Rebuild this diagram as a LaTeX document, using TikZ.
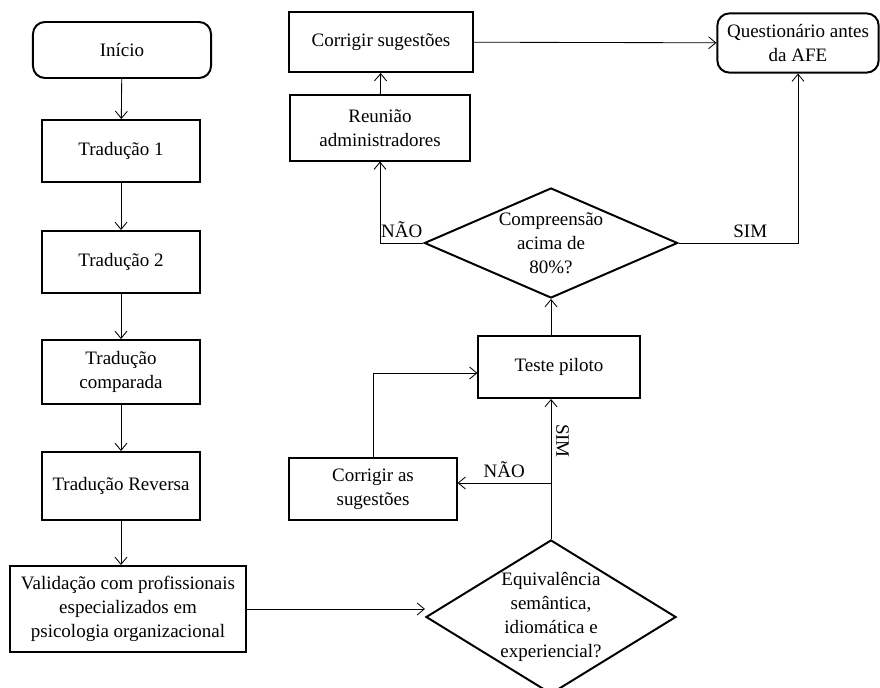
\documentclass[tikz,border=0pt]{standalone}
\usepackage{fontspec}
\setmainfont{Liberation Serif}
\usepackage{tikz}
\usetikzlibrary{shapes.geometric,arrows.meta,positioning,calc}

\begin{document}
\begin{tikzpicture}[
  x=0.025cm, y=-0.025cm,
  font=\fontsize{13.5}{17}\selectfont,
  >={Straight Barb[length=1.8mm,width=3mm]},
  terminal/.style={rectangle,rounded corners=0.3cm,draw,line width=1.4pt,align=center},
  process/.style={rectangle,draw,line width=1.4pt,align=center},
  decision/.style={diamond,draw,line width=1.4pt,inner sep=0pt},
  flow/.style={->,line width=0.6pt},
]
\useasboundingbox (0,0) rectangle (880,688);

% coluna da traducao
\node[terminal,minimum width=4.45cm,minimum height=1.4cm] (start) at (122,50) {Início};
\node[process,minimum width=3.95cm,minimum height=1.55cm] (trad1) at (121,151) {Tradução 1};
\node[process,minimum width=3.95cm,minimum height=1.55cm] (trad2) at (121,262) {Tradução 2};
\node[process,minimum width=3.95cm,minimum height=1.6cm] (tradcomp) at (121,372) {Tradução\\comparada};
\node[process,minimum width=3.95cm,minimum height=1.7cm] (tradrev) at (121,486) {Tradução Reversa};
\node[process,minimum width=5.9cm,minimum height=2.15cm] (valid) at (128,609) {Validação com profissionais\\especializados em\\psicologia organizacional};

% validacao e teste
\node[decision,minimum width=6.25cm,minimum height=3.85cm,
  label={[align=center]center:Equivalência\\semântica,\\idiomática e\\experiencial?}] (equiv) at (551,617) {};
\node[process,minimum width=4.18cm,minimum height=1.55cm] (corrigas) at (373,489) {Corrigir as\\sugestões};
\node[process,minimum width=4.03cm,minimum height=1.55cm] (teste) at (559,367) {Teste piloto};
\node[decision,minimum width=6.33cm,minimum height=2.75cm,
  label={[align=center]center:Compreensão\\acima de\\80\%?}] (compr) at (551,243) {};
\node[process,minimum width=4.5cm,minimum height=1.63cm] (reuniao) at (380,128) {Reunião\\administradores};
\node[process,minimum width=4.58cm,minimum height=1.5cm] (corrig) at (381,42) {Corrigir sugestões};
\node[terminal,minimum width=4.03cm,minimum height=1.48cm] (quest) at (798,43) {Questionário antes\\da AFE};

\coordinate (split) at (551,483);

\draw[flow] (start) -- (trad1);
\draw[flow] (trad1) -- (trad2);
\draw[flow] (trad2) -- (tradcomp);
\draw[flow] (tradcomp) -- (tradrev);
\draw[flow] (tradrev.south) -- (tradrev.south |- valid.north);
\draw[flow] (valid.east) -- (valid.east -| equiv.west);
\draw[flow] (equiv.north) -- node[pos=0.7,rotate=-90,anchor=south]{SIM} (equiv.north |- teste.south);
\draw[flow] (split) -- node[above]{NÃO} (split -| corrigas.east);
\draw[flow] (corrigas.north) |- ($(teste.west)+(0,6)$);
\draw[flow] (compr.south |- teste.north) -- (compr.south);
\draw[flow] (compr.west) -| node[pos=0.25,above]{NÃO} (reuniao.south);
\draw[flow] (compr.east) -| node[pos=0.3,above]{SIM} (quest.south);
\draw[flow] (reuniao) -- (corrig);
\draw[flow] (corrig) -- (quest);

\end{tikzpicture}
\end{document}
